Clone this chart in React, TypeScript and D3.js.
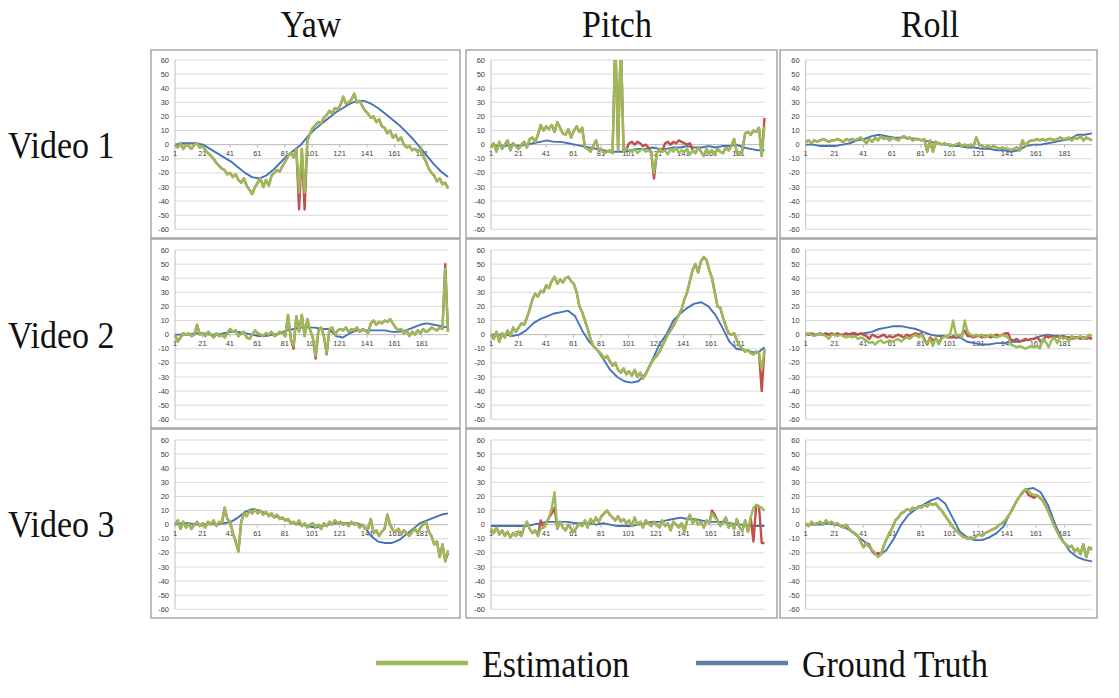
import React from 'react';
import * as d3 from 'd3';

// ---------- labels ----------
const angleTitles = ['Yaw', 'Pitch', 'Roll'];
const videoLabels = ['Video 1', 'Video 2', 'Video 3'];
const yTicks = [60, 50, 40, 30, 20, 10, 0, -10, -20, -30, -40, -50, -60];
const xTickLabels = [1, 21, 41, 61, 81, 101, 121, 141, 161, 181];
const legendItems = ['Estimation', 'Ground Truth'];

// ---------- data (estimation: 100 samples over frames 1..200; ground truth: 40 samples) ----------
// Video 1
const yawV1Est = [0,-2,1,-3,0,-1,-3,0,1,-2, -1,-4,-6,-8,-10,-13,-15,-17,-18,-21, -20,-23,-21,-25,-27,-24,-29,-32,-35,-30, -27,-24,-30,-25,-29,-22,-20,-18,-19,-15, -12,-8,-6,-9,-3,-34,-3,-34,3,8, 12,14,16,15,19,21,24,22,26,25, 28,34,29,30,32,36,30,31,27,24, 22,19,20,16,18,13,12,8,10,5, 7,3,5,0,-2,-1,-4,-3,-5,-3, -8,-12,-17,-20,-22,-26,-24,-28,-27,-31];
const yawV1Gt = [0,1,1,1,0,-3,-6,-9,-12,-16, -20,-23,-24,-22,-18,-13,-8,-4,0,6, 11,15,19,23,26,29,31,31,29,26, 22,18,14,9,4,-2,-8,-14,-19,-23];
const yawV1Red: [number, number][] = [[45,-46],[47,-46]];

const pitchV1Est = [-2,1,-5,2,-3,0,3,-4,1,-1, -3,0,2,-2,4,5,2,7,14,10, 13,11,14,9,16,12,8,7,11,5, 10,13,9,12,-2,-3,-5,-1,3,-4, -3,-6,-5,-4,-6,75,-4,75,-5,-3, -4,-5,-3,-6,-4,-3,-5,-4,-6,-20, -6,-3,-5,-4,-7,-3,-5,-2,-6,-4, -5,-3,-7,-4,-6,-2,-5,-8,-3,-6, -4,-7,-3,-5,-6,-2,-4,-1,4,-6, -7,-4,8,9,7,10,9,12,-8,13];
const pitchV1Gt = [0,-1,-1,0,-1,0,1,2,3,2, 2,1,0,-1,-2,-3,-4,-5,-5,-5, -4,-3,-3,-2,-3,-3,-2,-2,-1,-2, -2,-1,-2,-1,-1,0,-2,-3,-4,-4];
const pitchV1Red: [number, number][] = [[50,1],[51,2],[52,0],[53,2],[54,1],[55,-1],[56,0],[57,-2],[59,-24],[63,1],[64,2],[65,0],[66,2],[67,1],[68,3],[69,2],[70,1],[71,0],[72,1],[99,19]];

const rollV1Est = [2,3,1,3,2,3,4,3,2,3, 3,4,3,2,4,3,4,3,4,5, 3,1,4,2,5,3,6,4,5,3, 5,4,3,5,6,4,5,3,4,4, 3,4,-5,3,-5,2,1,0,1,0, 0,-1,0,1,-1,0,-1,0,-1,5, 0,-1,-2,-1,-2,-1,-2,-3,-2,-3, -3,-4,-3,-2,-4,3,-1,2,3,3, 4,3,4,3,4,4,3,4,5,4, 4,5,3,5,4,6,3,5,4,3];
const rollV1Gt = [0,0,-1,-1,-1,0,1,3,4,6, 7,6,5,5,5,4,3,2,1,0, -1,-1,-2,-2,-3,-3,-4,-4,-5,-4, -1,0,0,1,2,3,4,7,7,8];
const rollV1Red: [number, number][] = [];

// Video 2
const yawV2Est = [0,-5,-2,1,0,1,-1,0,7,0, 1,-1,2,0,-2,1,-1,0,-2,1, 4,2,3,-1,1,2,-2,-3,0,3, 1,0,-1,1,0,2,-1,0,2,1, -1,14,-3,-8,13,2,14,-1,11,3, -2,-15,3,5,-1,-13,4,5,0,3, 4,3,5,2,4,3,5,2,4,3, 1,8,10,7,9,8,10,9,11,8, 5,3,4,1,3,-1,2,0,3,1, 4,2,3,5,4,3,5,4,47,2];
const yawV2Gt = [0,0,0,1,1,0,0,1,2,2, 1,0,-1,-1,0,1,3,4,5,5, 5,4,4,-1,-2,1,3,3,3,3, 3,2,2,3,5,7,8,7,6,5];
const yawV2Red: [number, number][] = [[43,-10],[51,-17],[55,-14],[98,50]];

const pitchV2Est = [0,-3,2,-5,1,-2,3,-1,5,2, 5,8,7,12,18,25,29,27,31,30, 35,33,38,41,36,39,37,40,41,38, 36,30,20,16,10,4,-3,-8,-10,-12, -14,-17,-15,-19,-22,-20,-25,-27,-24,-28, -26,-29,-25,-30,-27,-31,-28,-24,-20,-17, -15,-12,-8,-4,0,3,6,10,14,18, 25,30,38,46,50,44,52,55,53,46, 40,30,20,19,12,6,1,0,1,-4, -8,-10,-12,-11,-13,-14,-12,-13,-25,-10];
const pitchV2Gt = [0,0,0,-1,0,3,8,11,13,15, 16,17,13,3,-5,-10,-17,-25,-30,-33, -34,-33,-28,-18,-7,0,10,15,19,22, 23,20,14,5,-5,-10,-11,-12,-13,-9];
const pitchV2Red: [number, number][] = [[96,-12],[98,-40]];

const rollV2Est = [0,1,0,-1,0,1,0,-1,-3,0, 0,-1,0,-1,-2,-1,-2,-1,-3,-2, -3,-4,-6,-5,-7,-5,-4,-6,-5,-4, -5,-4,-3,-5,-3,-2,-3,-1,0,-2, 0,-4,-6,-3,-8,-2,-7,-3,-1,-2, 1,10,-1,0,-2,10,2,0,-1,0, -1,0,-2,-1,0,-1,-2,-1,0,-1, -2,-7,-8,-9,-8,-9,-10,-9,-8,-9, -8,-10,-3,-5,-9,-4,-2,-6,-1,-3, -2,-5,-1,-3,-2,-1,-3,-2,0,-1];
const rollV2Gt = [0,0,0,0,0,0,0,0,1,2, 4,5,6,6,5,4,2,0,-1,-1, -2,-2,-5,-6,-7,-7,-6,-6,-5,-5, -4,-3,-1,0,-1,-1,-2,-2,-2,-3];
const rollV2RedFull = [1,0,1,0,0,1,0,1,0,1, 0,1,0,0,1,0,1,1,0,1, 0,-1,-3,0,-1,-2,-1,0,-2,-1, -2,-1,0,-1,-2,0,-1,0,1,0, 1,-3,-7,-2,-4,-3,-6,-2,-1,-2, -2,-1,-2,-1,0,3,-1,-1,-2,-1, -1,-2,-1,-1,-2,-1,0,-1,0,1, 1,-4,-4,-3,-5,-4,-3,-4,-3,-3, -2,-4,-5,-1,-2,-1,-2,-1,-2,-1, -2,-2,-3,-2,-2,-3,-2,-3,-2,-3];

// Video 3
const yawV3Est = [0,3,-3,2,-2,1,-3,0,2,-1, 1,-2,2,0,3,-1,2,1,12,4, 2,-6,-12,-19,2,8,6,10,8,11, 8,10,7,9,6,8,5,7,4,5, 3,4,1,2,0,3,-1,1,-2,0, 1,-2,0,-3,1,-1,2,0,3,1, 2,0,1,-1,2,0,1,-2,0,-3, -3,4,-6,-4,-8,-5,-3,7,0,-4, -5,-3,-7,-4,-6,-8,-5,-3,-6,-2, 0,2,-5,-8,-14,-12,-23,-14,-26,-18];
const yawV3Gt = [0,1,1,0,0,1,0,1,2,5, 9,11,10,8,6,5,3,1,0,-1, -2,-1,0,1,1,1,1,-1,-8,-12, -13,-13,-11,-7,-3,1,3,5,7,8];
const yawV3Red: [number, number][] = [[99,-20]];

const pitchV3Est = [-3,-6,-2,-7,-4,-8,-5,-9,-6,-8, -5,-8,-2,2,-3,-6,-4,-8,-3,-2, 1,5,12,23,-3,2,-2,-4,0,-3, -5,-2,1,-1,3,-2,4,1,5,2, 6,8,10,7,5,3,6,2,4,1, 3,-1,5,0,2,-2,3,1,-1,2, 0,-2,3,-1,1,-4,2,0,-2,1, -5,3,7,1,4,0,2,-2,3,1, 8,5,3,-1,2,5,-2,1,-3,4, -2,-4,3,-5,5,12,14,13,12,10];
const pitchV3Gt = [-1,-1,-1,-1,-1,-1,0,1,2,2, 2,2,1,1,1,0,1,0,-1,-1, -1,0,1,2,2,3,4,5,4,4, 3,2,2,2,1,0,0,-1,-1,-1];
const pitchV3Red: [number, number][] = [[18,3],[22,8],[23,12],[80,10],[81,7],[95,-12],[98,-13],[99,-13]];

const rollV3Est = [1,-1,2,0,1,2,0,3,1,2, 0,1,-1,-2,0,-3,-5,-6,-8,-12, -16,-13,-15,-18,-20,-23,-21,-15,-10,-6, -2,3,5,8,9,11,10,12,11,13, 12,14,13,15,14,15,12,10,7,4, 1,-2,-4,-6,-8,-9,-10,-9,-10,-8, -7,-8,-6,-5,-4,-3,-2,0,1,3, 6,9,13,17,20,23,25,24,22,21, 21,19,17,13,9,4,-1,-5,-9,-12, -14,-16,-15,-19,-17,-21,-14,-23,-16,-18];
const rollV3Gt = [0,0,0,1,0,-1,-4,-8,-12,-18, -22,-18,-10,0,7,11,14,17,19,15, 5,-5,-9,-11,-11,-9,-6,-1,10,19, 25,26,23,14,0,-11,-19,-23,-25,-26];
const rollV3Red: [number, number][] = [[22,-14],[23,-19],[24,-21],[25,-20],[77,21],[78,20],[79,19],[99,-17]];

// ---------- assembly ----------
const patch = (base: number[], p: [number, number][]) => {
  const m = new Map(p);
  return base.map((v, i) => (m.has(i) ? (m.get(i) as number) : v));
};

type Panel = { est: number[]; gt: number[]; red: number[] };
const panels: Panel[][] = [
  [
    { est: yawV1Est, gt: yawV1Gt, red: patch(yawV1Est, yawV1Red) },
    { est: pitchV1Est, gt: pitchV1Gt, red: patch(pitchV1Est, pitchV1Red) },
    { est: rollV1Est, gt: rollV1Gt, red: patch(rollV1Est, rollV1Red) },
  ],
  [
    { est: yawV2Est, gt: yawV2Gt, red: patch(yawV2Est, yawV2Red) },
    { est: pitchV2Est, gt: pitchV2Gt, red: patch(pitchV2Est, pitchV2Red) },
    { est: rollV2Est, gt: rollV2Gt, red: rollV2RedFull },
  ],
  [
    { est: yawV3Est, gt: yawV3Gt, red: patch(yawV3Est, yawV3Red) },
    { est: pitchV3Est, gt: pitchV3Gt, red: patch(pitchV3Est, pitchV3Red) },
    { est: rollV3Est, gt: rollV3Gt, red: patch(rollV3Est, rollV3Red) },
  ],
];

// ---------- layout ----------
const W = 1119;
const H = 698;
const colBoxes = [[151, 460], [466, 777], [780, 1097]];
const rowBoxes = [[50, 238], [239, 428], [429, 618]];
const colPlots = [[175, 448], [491, 764.5], [805.7, 1092]];
const rowPlots = [[60, 229.3], [250, 419.3], [440, 609.3]];
const titleX = [311, 617, 930];
const videoY = [146, 336, 525];

const GREEN = '#9bbb59';
const BLUE = '#4473b8';
const RED = '#c0504d';
const SERIF = "'Liberation Serif', 'Times New Roman', serif";
const SANS = "'Liberation Sans', Arial, sans-serif";
const BIG = 34;
const STRETCH = 1.12;

const toPoints = (vals: number[]) => vals.map((v, i) => [1 + (i * 199) / (vals.length - 1), v] as [number, number]);

function BigText({ x, y, anchor, children }: { x: number; y: number; anchor?: string; children: React.ReactNode }) {
  return (
    <text
      transform={`translate(${x},${y}) scale(1,${STRETCH})`}
      textAnchor={anchor || 'start'}
      fontFamily={SERIF}
      fontSize={BIG}
      fill="#111"
    >
      {children}
    </text>
  );
}

function Chart({ r, c }: { r: number; c: number }) {
  const p = panels[r][c];
  const [bx0, bx1] = colBoxes[c];
  const [by0, by1] = rowBoxes[r];
  const [px0, px1] = colPlots[c];
  const [py0, py1] = rowPlots[r];
  const x = d3.scaleLinear().domain([1, 200]).range([px0, px1]);
  const y = d3.scaleLinear().domain([-60, 60]).range([py1, py0]);
  const line = d3.line<[number, number]>().x((d) => x(d[0])).y((d) => y(d[1]));
  const clipId = `clip-${r}-${c}`;
  return (
    <g>
      <rect x={bx0} y={by0} width={bx1 - bx0} height={by1 - by0} fill="#fff" stroke="#a0a0a0" strokeWidth={1.4} />
      <clipPath id={clipId}>
        <rect x={px0 - 3} y={py0} width={px1 - px0 + 6} height={py1 - py0} />
      </clipPath>
      {yTicks.map((t) => (
        <g key={t}>
          <line x1={px0} x2={px1} y1={y(t)} y2={y(t)} stroke={t === 0 ? '#b8b8b8' : '#d9d9d9'} strokeWidth={1} />
          <text x={px0 - 6} y={y(t)} dy="0.35em" textAnchor="end" fontFamily={SANS} fontSize={7.5} fill="#404040">
            {t}
          </text>
        </g>
      ))}
      <line x1={px0} x2={px0} y1={py0} y2={py1} stroke="#bfbfbf" strokeWidth={1} />
      {xTickLabels.map((t) => (
        <g key={t}>
          <line x1={x(t)} x2={x(t)} y1={y(0)} y2={y(0) + 3} stroke="#b8b8b8" strokeWidth={1} />
          <text x={x(t)} y={y(0) + 8.5} dy="0.35em" textAnchor="middle" fontFamily={SANS} fontSize={7.5} fill="#404040">
            {t}
          </text>
        </g>
      ))}
      <g clipPath={`url(#${clipId})`} fill="none" strokeLinejoin="round">
        <path d={line(toPoints(p.gt)) || ''} stroke={BLUE} strokeWidth={1.9} />
        <path d={line(toPoints(p.red)) || ''} stroke={RED} strokeWidth={2.4} />
        <path d={line(toPoints(p.est)) || ''} stroke={GREEN} strokeWidth={2.4} />
      </g>
    </g>
  );
}

export default function App() {
  const legendX = d3.scaleOrdinal<string, number>().domain(legendItems).range([376, 696]);
  const legendColor = d3.scaleOrdinal<string, string>().domain(legendItems).range([GREEN, '#5b80a8']);
  return (
    <svg width={W} height={H} style={{ position: 'absolute', left: 0, top: 0, background: '#fff' }}>
      <rect x={0} y={0} width={W} height={H} fill="#fff" />
      {angleTitles.map((t, i) => (
        <BigText key={t} x={titleX[i]} y={37} anchor="middle">
          {t}
        </BigText>
      ))}
      {videoLabels.map((t, i) => (
        <BigText key={t} x={8} y={videoY[i] + 12}>
          {t}
        </BigText>
      ))}
      {[0, 1, 2].map((r) => [0, 1, 2].map((c) => <Chart key={`${r}-${c}`} r={r} c={c} />))}
      {legendItems.map((t) => (
        <g key={t}>
          <line x1={legendX(t)} x2={legendX(t) + 92} y1={663} y2={663} stroke={legendColor(t)} strokeWidth={4.5} />
          <BigText x={legendX(t) + 106} y={677}>
            {t}
          </BigText>
        </g>
      ))}
    </svg>
  );
}
